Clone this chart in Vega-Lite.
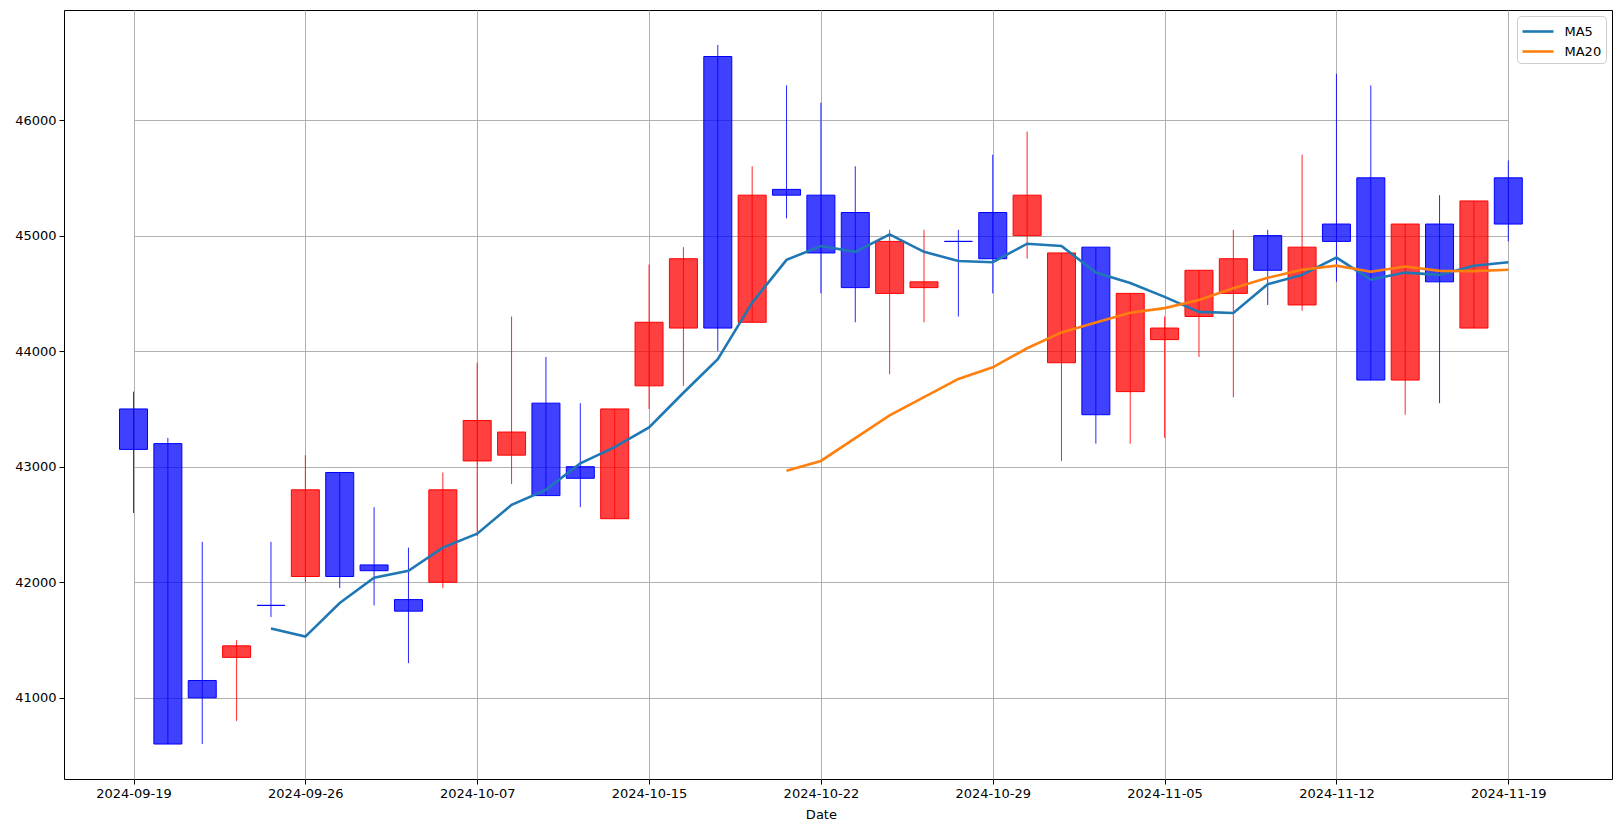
{
  "$schema": "https://vega.github.io/schema/vega-lite/v6.json",
  "width": 1548,
  "height": 769,
  "autosize": {"type": "none"},
  "padding": {"left": 64, "top": 10, "right": 11, "bottom": 54},
  "background": "white",
  "config": {
    "font": "DejaVu Sans",
    "view": {"stroke": "black", "strokeWidth": 1},
    "axis": {
      "domain": false,
      "grid": true,
      "gridColor": "#b0b0b0",
      "gridWidth": 1,
      "tickColor": "black",
      "tickSize": 5,
      "labelColor": "black",
      "labelFontSize": 13,
      "labelFont": "DejaVu Sans",
      "titleFont": "DejaVu Sans",
      "titleFontSize": 13,
      "titleFontWeight": "normal",
      "titleColor": "black",
      "zindex": 1
    },
    "legend": {
      "labelFont": "DejaVu Sans",
      "labelFontSize": 13,
      "labelColor": "black"
    }
  },
  "data": {
    "values": [
      {"date": "2024-09-19", "open": 43500, "high": 43650, "low": 42600, "close": 43150, "ma5": null, "ma20": null},
      {"date": "2024-09-20", "open": 43200, "high": 43250, "low": 40600, "close": 40600, "ma5": null, "ma20": null},
      {"date": "2024-09-23", "open": 41150, "high": 42350, "low": 40600, "close": 41000, "ma5": null, "ma20": null},
      {"date": "2024-09-24", "open": 41350, "high": 41500, "low": 40800, "close": 41450, "ma5": null, "ma20": null},
      {"date": "2024-09-25", "open": 41800, "high": 42350, "low": 41700, "close": 41800, "ma5": 41600, "ma20": null},
      {"date": "2024-09-26", "open": 42050, "high": 43100, "low": 42000, "close": 42800, "ma5": 41530, "ma20": null},
      {"date": "2024-09-27", "open": 42950, "high": 42950, "low": 41950, "close": 42050, "ma5": 41820, "ma20": null},
      {"date": "2024-09-30", "open": 42150, "high": 42650, "low": 41800, "close": 42100, "ma5": 42040, "ma20": null},
      {"date": "2024-10-01", "open": 41850, "high": 42300, "low": 41300, "close": 41750, "ma5": 42100, "ma20": null},
      {"date": "2024-10-04", "open": 42000, "high": 42950, "low": 41950, "close": 42800, "ma5": 42300, "ma20": null},
      {"date": "2024-10-07", "open": 43050, "high": 43900, "low": 42400, "close": 43400, "ma5": 42420, "ma20": null},
      {"date": "2024-10-08", "open": 43100, "high": 44300, "low": 42850, "close": 43300, "ma5": 42670, "ma20": null},
      {"date": "2024-10-09", "open": 43550, "high": 43950, "low": 42750, "close": 42750, "ma5": 42800, "ma20": null},
      {"date": "2024-10-10", "open": 43000, "high": 43550, "low": 42650, "close": 42900, "ma5": 43030, "ma20": null},
      {"date": "2024-10-11", "open": 42550, "high": 43500, "low": 42550, "close": 43500, "ma5": 43170, "ma20": null},
      {"date": "2024-10-15", "open": 43700, "high": 44750, "low": 43500, "close": 44250, "ma5": 43340, "ma20": null},
      {"date": "2024-10-16", "open": 44200, "high": 44900, "low": 43700, "close": 44800, "ma5": 43640, "ma20": null},
      {"date": "2024-10-17", "open": 46550, "high": 46650, "low": 44000, "close": 44200, "ma5": 43930, "ma20": null},
      {"date": "2024-10-18", "open": 44250, "high": 45600, "low": 44250, "close": 45350, "ma5": 44420, "ma20": null},
      {"date": "2024-10-21", "open": 45400, "high": 46300, "low": 45150, "close": 45350, "ma5": 44790, "ma20": 42965},
      {"date": "2024-10-22", "open": 45350, "high": 46150, "low": 44500, "close": 44850, "ma5": 44910, "ma20": 43050},
      {"date": "2024-10-23", "open": 45200, "high": 45600, "low": 44250, "close": 44550, "ma5": 44860, "ma20": 43247.5},
      {"date": "2024-10-24", "open": 44500, "high": 45050, "low": 43800, "close": 44950, "ma5": 45010, "ma20": 43445},
      {"date": "2024-10-25", "open": 44550, "high": 45050, "low": 44250, "close": 44600, "ma5": 44860, "ma20": 43602.5},
      {"date": "2024-10-28", "open": 44950, "high": 45050, "low": 44300, "close": 44950, "ma5": 44780, "ma20": 43760},
      {"date": "2024-10-29", "open": 45200, "high": 45700, "low": 44500, "close": 44800, "ma5": 44770, "ma20": 43860},
      {"date": "2024-10-30", "open": 45000, "high": 45900, "low": 44800, "close": 45350, "ma5": 44930, "ma20": 44025},
      {"date": "2024-10-31", "open": 43900, "high": 44850, "low": 43050, "close": 44850, "ma5": 44910, "ma20": 44162.5},
      {"date": "2024-11-01", "open": 44900, "high": 44900, "low": 43200, "close": 43450, "ma5": 44680, "ma20": 44247.5},
      {"date": "2024-11-04", "open": 43650, "high": 44500, "low": 43200, "close": 44500, "ma5": 44590, "ma20": 44332.5},
      {"date": "2024-11-05", "open": 44100, "high": 44300, "low": 43250, "close": 44200, "ma5": 44470, "ma20": 44372.5},
      {"date": "2024-11-06", "open": 44300, "high": 44700, "low": 43950, "close": 44700, "ma5": 44340, "ma20": 44442.5},
      {"date": "2024-11-07", "open": 44500, "high": 45050, "low": 43600, "close": 44800, "ma5": 44330, "ma20": 44545},
      {"date": "2024-11-08", "open": 45000, "high": 45050, "low": 44400, "close": 44700, "ma5": 44580, "ma20": 44635},
      {"date": "2024-11-11", "open": 44400, "high": 45700, "low": 44350, "close": 44900, "ma5": 44660, "ma20": 44705},
      {"date": "2024-11-12", "open": 45100, "high": 46400, "low": 44600, "close": 44950, "ma5": 44810, "ma20": 44740},
      {"date": "2024-11-13", "open": 45500, "high": 46300, "low": 43750, "close": 43750, "ma5": 44620, "ma20": 44687.5},
      {"date": "2024-11-14", "open": 43750, "high": 45100, "low": 43450, "close": 45100, "ma5": 44680, "ma20": 44732.5},
      {"date": "2024-11-15", "open": 45100, "high": 45350, "low": 43550, "close": 44600, "ma5": 44660, "ma20": 44695},
      {"date": "2024-11-18", "open": 44200, "high": 45300, "low": 44200, "close": 45300, "ma5": 44740, "ma20": 44692.5},
      {"date": "2024-11-19", "open": 45500, "high": 45650, "low": 44950, "close": 45100, "ma5": 44770, "ma20": 44705}
    ]
  },
  "encoding": {
    "x": {
      "field": "date",
      "type": "ordinal",
      "sort": null,
      "scale": {"type": "point", "padding": 0, "range": [69.5, 1444.3], "round": false},
      "axis": {
        "values": ["2024-09-19", "2024-09-26", "2024-10-07", "2024-10-15", "2024-10-22", "2024-10-29", "2024-11-05", "2024-11-12", "2024-11-19"],
        "labelAngle": 0,
        "title": "Date",
        "labelPadding": 3,
        "titlePadding": 8
      }
    }
  },
  "layer": [
    {
      "mark": {"type": "rule", "strokeWidth": 1, "opacity": 0.85},
      "encoding": {
        "y": {
          "field": "low",
          "type": "quantitative",
          "scale": {"domain": [40297.5, 46952.5], "nice": false, "zero": false},
          "axis": {"title": null, "values": [41000, 42000, 43000, 44000, 45000, 46000], "format": "d", "labelPadding": 3}
        },
        "y2": {"field": "high"},
        "stroke": {"condition": {"test": "datum.close > datum.open", "value": "#ff0000"}, "value": "#0000ff"}
      }
    },
    {
      "mark": {"type": "bar", "width": 28, "strokeWidth": 1, "fillOpacity": 0.75},
      "encoding": {
        "y": {"field": "open", "type": "quantitative"},
        "y2": {"field": "close"},
        "fill": {"condition": {"test": "datum.close > datum.open", "value": "#ff0000"}, "value": "#0000ff"},
        "stroke": {"condition": {"test": "datum.close > datum.open", "value": "#ff0000"}, "value": "#0000ff"}
      }
    },
    {
      "mark": {"type": "line", "strokeWidth": 2.6},
      "encoding": {
        "y": {"field": "ma5", "type": "quantitative"},
        "color": {
          "datum": "MA5",
          "type": "nominal",
          "scale": {"domain": ["MA5", "MA20"], "range": ["#1f77b4", "#ff7f0e"]},
          "legend": {
            "title": null,
            "orient": "top-right",
            "offset": 6,
            "fillColor": "white",
            "strokeColor": "#cccccc",
            "cornerRadius": 4,
            "padding": 4,
            "symbolType": "M-1.55,0H1.55",
            "symbolSize": 400,
            "symbolFillColor": "transparent",
            "symbolStrokeWidth": 2.6,
            "symbolOffset": 5.5,
            "rowPadding": 1,
            "labelOffset": 15
          }
        }
      }
    },
    {
      "mark": {"type": "line", "strokeWidth": 2.6},
      "encoding": {
        "y": {"field": "ma20", "type": "quantitative"},
        "color": {"datum": "MA20", "type": "nominal"}
      }
    }
  ]
}
